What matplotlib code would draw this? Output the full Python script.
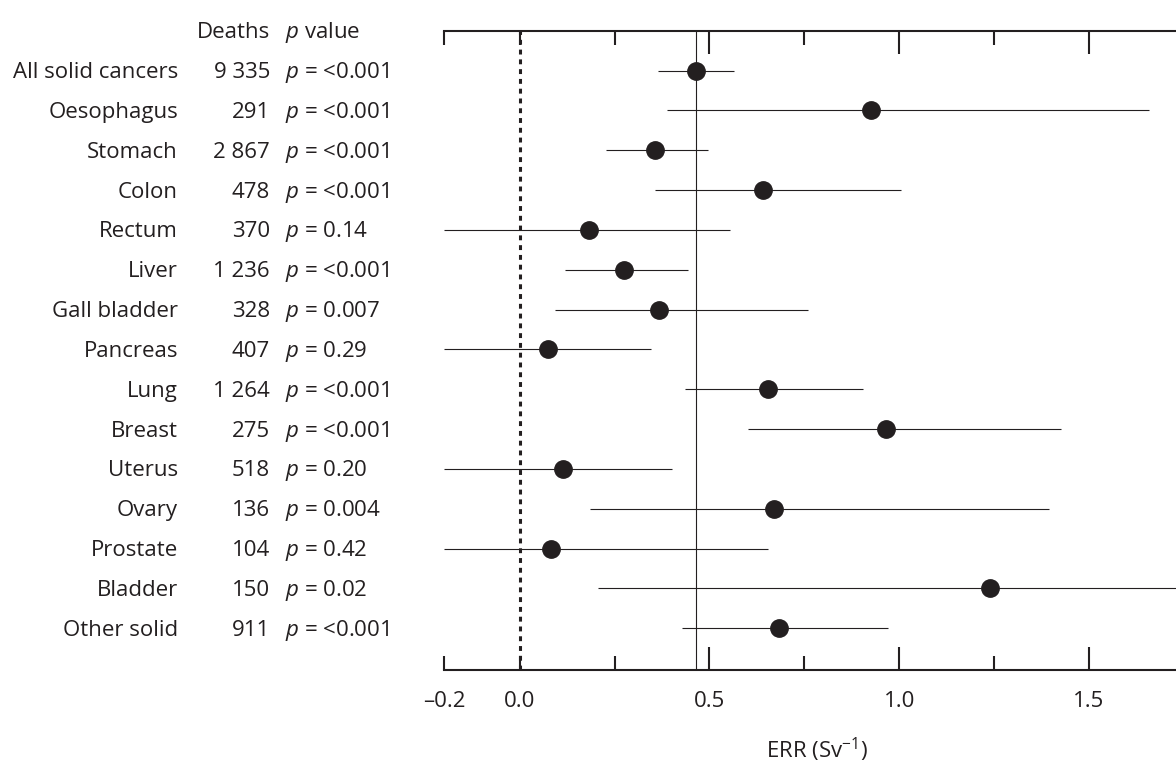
import matplotlib
matplotlib.use("Agg")
import matplotlib.pyplot as plt
import matplotlib.transforms as mtransforms
from matplotlib.ticker import FixedLocator, FixedFormatter

# data
sites = ['All solid cancers', 'Oesophagus', 'Stomach', 'Colon', 'Rectum', 'Liver',
         'Gall bladder', 'Pancreas', 'Lung', 'Breast', 'Uterus', 'Ovary',
         'Prostate', 'Bladder', 'Other solid']
deaths = [9335, 291, 2867, 478, 370, 1236, 328, 407, 1264, 275, 518, 136, 104, 150, 911]
p_values = ['<0.001', '<0.001', '<0.001', '<0.001', '0.14', '<0.001', '0.007', '0.29',
            '<0.001', '<0.001', '0.20', '0.004', '0.42', '0.02', '<0.001']
err = [0.465, 0.927, 0.356, 0.642, 0.183, 0.275, 0.367, 0.074, 0.655, 0.965,
       0.114, 0.669, 0.082, 1.239, 0.683]
ci_low = [0.363, 0.388, 0.228, 0.357, -0.2, 0.120, 0.093, -0.2, 0.436, 0.601,
          -0.2, 0.186, -0.2, 0.205, 0.427]
ci_high = [0.564, 1.659, 0.495, 1.006, 0.555, 0.444, 0.761, 0.346, 0.904, 1.427,
           0.401, 1.395, 0.655, 2.1, 0.971]
all_solid_err = 0.465

ink = '#231f20'
plt.rcParams['font.family'] = ['Open Sans', 'DejaVu Sans']
plt.rcParams['mathtext.fontset'] = 'custom'
plt.rcParams['mathtext.rm'] = 'Open Sans'
plt.rcParams['mathtext.it'] = 'Open Sans:italic'
plt.rcParams['text.color'] = ink

fig = plt.figure(figsize=(11.76, 7.65), dpi=100)
ax = fig.add_axes([444 / 1176, 1 - 670 / 765, 1 - 444 / 1176, (670 - 30.7) / 765])

rows = list(range(len(sites)))

ax.hlines(rows, ci_low, ci_high, color=ink, lw=0.8)
ax.plot(err, rows, 'o', color=ink, ms=12.5, zorder=3)
ax.axvline(all_solid_err, color=ink, lw=0.8)
ax.axvline(0, color=ink, lw=2.2, ls=(0, (1.6, 1.6)))

ax.set_xlim(-0.2, 1.73)
ax.set_ylim(15.05, -1.0)

for s in ['left', 'right']:
    ax.spines[s].set_visible(False)
for s in ['top', 'bottom']:
    ax.spines[s].set_linewidth(1.5)
    ax.spines[s].set_color(ink)

ax.xaxis.set_major_locator(FixedLocator([0.5, 1.0, 1.5]))
ax.xaxis.set_major_formatter(FixedFormatter(['0.5', '1.0', '1.5']))
ax.xaxis.set_minor_locator(FixedLocator([-0.2, 0.0, 0.25, 0.75, 1.25]))
ax.xaxis.set_minor_formatter(FixedFormatter(['\u20130.2', '0.0', '', '', '']))
ax.tick_params(axis='x', which='both', direction='in', top=True, bottom=True,
               width=1.5, color=ink, labelsize=16, pad=15, labelcolor=ink)
ax.tick_params(axis='x', which='major', length=16.5)
ax.tick_params(axis='x', which='minor', length=10)
ax.set_yticks([])
fig.text(817 / 1176, 1 - 750 / 765, 'ERR (Sv$^{\u22121}$)', ha='center', va='center',
         fontsize=16)

# table columns on the left, nudged down a touch to sit level with the dots
trans = mtransforms.blended_transform_factory(fig.transFigure, ax.transData)
fs = 16
dy = 0.05
ax.text(270 / 1176, -1 + dy, 'Deaths', transform=trans, ha='right', va='center', fontsize=fs)
ax.text(285 / 1176, -1 + dy, '$p$ value', transform=trans, ha='left', va='center', fontsize=fs)
for i, (name, d, p) in enumerate(zip(sites, deaths, p_values)):
    ax.text(178 / 1176, i + dy, name, transform=trans, ha='right', va='center', fontsize=fs)
    ax.text(270 / 1176, i + dy, f'{d:,}'.replace(',', ' '), transform=trans,
            ha='right', va='center', fontsize=fs)
    ax.text(285 / 1176, i + dy, f'$p$ = {p}', transform=trans, ha='left', va='center',
            fontsize=fs)

fig.savefig('out.png', dpi=100)
